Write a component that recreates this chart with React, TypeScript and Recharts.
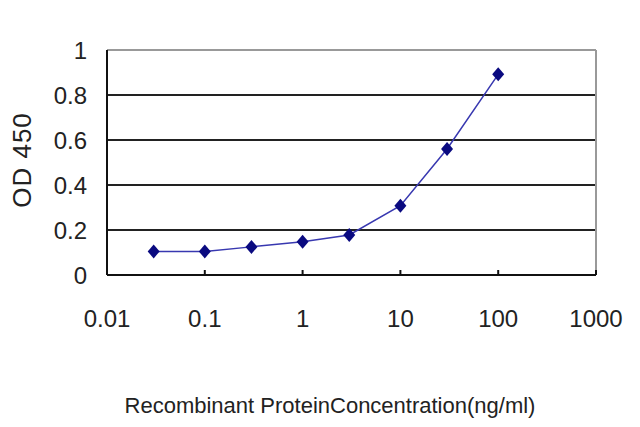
import { CartesianGrid, Line, LineChart, ReferenceLine, XAxis, YAxis } from 'recharts';

const concentrations = [0.03, 0.1, 0.3, 1, 3, 10, 30, 100];
const odValues = [0.105, 0.105, 0.125, 0.148, 0.178, 0.308, 0.56, 0.892];
const xTicks = [0.01, 0.1, 1, 10, 100, 1000];
const yTicks = [0, 0.2, 0.4, 0.6, 0.8, 1];

const data = concentrations.map((c, i) => ({ conc: c, od: odValues[i] }));

const font = '"Liberation Sans", Arial, sans-serif';

const Diamond = (props: any) => {
  const { cx, cy } = props;
  if (cx == null || cy == null) return null;
  return (
    <polygon
      points={`${cx},${cy - 7} ${cx + 6},${cy} ${cx},${cy + 7} ${cx - 6},${cy}`}
      fill='#0a0a80'
    />
  );
};

const XTitle = (props: any) => {
  const { viewBox } = props;
  return (
    <text x={330} y={viewBox.y + viewBox.height - 14} textAnchor='middle'
      fontFamily={font} fontSize={22} fill='#222'>
      Recombinant ProteinConcentration(ng/ml)
    </text>
  );
};

const YTitle = () => (
  <text x={0} y={0} transform='translate(31,160) rotate(-90)' textAnchor='middle'
    fontFamily={font} fontSize={26} letterSpacing={1} fill='#222'>
    OD 450
  </text>
);

export default function App() {
  return (
    <div style={{ position: 'absolute', left: 0, top: 0, width: 640, height: 427, background: '#fff' }}>
      <LineChart width={640} height={427} data={data}
        margin={{ top: 50, right: 44, left: 0, bottom: 0 }}>
        <CartesianGrid horizontal vertical={false} stroke='#222' strokeWidth={2}
          strokeOpacity={1} />
        <XAxis dataKey='conc' type='number' scale='log' domain={[0.01, 1000]}
          ticks={xTicks} allowDataOverflow height={152}
          axisLine={{ stroke: '#111', strokeWidth: 2 }}
          tickLine={{ stroke: '#111', strokeWidth: 2 }} tickSize={-5} tickMargin={40}
          tick={{ fill: '#222', fontSize: 24, fontFamily: font }}
          label={<XTitle />} />
        <YAxis type='number' domain={[0, 1]} ticks={yTicks} width={107}
          axisLine={{ stroke: '#111', strokeWidth: 2 }} tickLine={false}
          tickSize={0} tickMargin={20}
          tick={{ fill: '#222', fontSize: 24, fontFamily: font }}
          label={<YTitle />} />
        <ReferenceLine y={1} stroke='#999' strokeWidth={2} />
        <ReferenceLine x={1000} stroke='#999' strokeWidth={2} />
        <Line dataKey='od' stroke='#3838b0' strokeWidth={1.5} dot={<Diamond />}
          isAnimationActive={false} />
      </LineChart>
    </div>
  );
}
